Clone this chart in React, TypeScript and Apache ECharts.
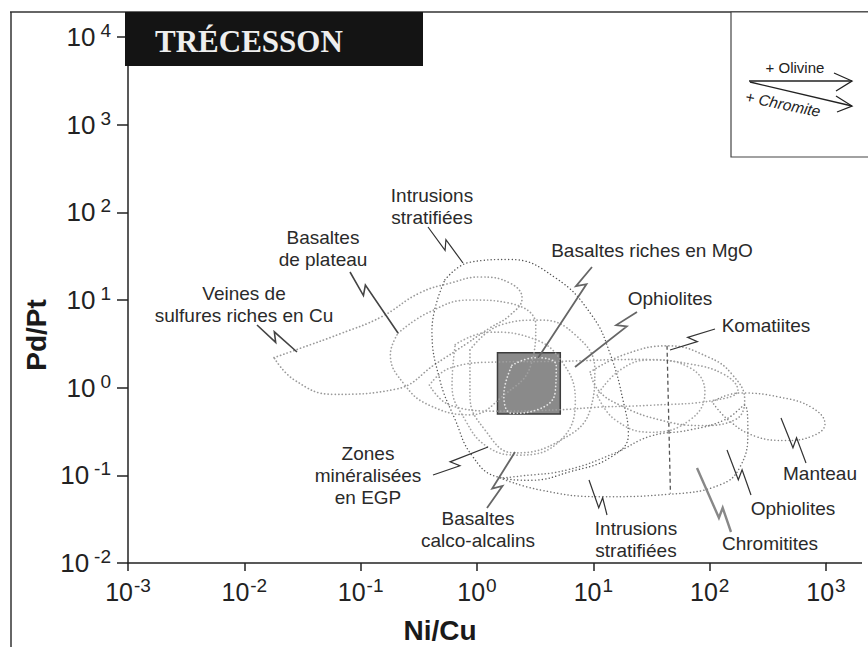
import React, { useEffect, useRef } from "react";
import * as echarts from "echarts";

// ---- Data (Ni/Cu , Pd/Pt) ----
const veinesCu = [[0.018, 2.2], [0.030, 2.8], [0.066, 4.1], [0.15, 6.4], [0.32, 12], [0.59, 15.6], [1.06, 18.3], [1.92, 15.6], [2.44, 10.5], [1.92, 6.7], [1.29, 4.8], [0.82, 3.2], [0.45, 1.9], [0.2, 0.96], [0.058, 0.84], [0.027, 1.22]];
const intrusionsHaut = [[0.53, 17], [0.87, 27], [1.9, 29], [4.7, 18], [9.7, 6.7], [14, 2.4], [18, 0.72], [20, 0.29], [14, 0.16], [6.3, 0.11], [2.9, 0.088], [1.5, 0.096], [0.9, 0.17], [0.65, 0.43], [0.48, 1.22], [0.41, 4.5]];
const basaltesPlateau = [[0.21, 4.2], [0.39, 7.3], [0.87, 10], [1.9, 9.2], [3.2, 5.2], [2.9, 1.8], [1.7, 0.82], [0.87, 0.49], [0.39, 0.63], [0.24, 1.07], [0.18, 2.4]];
const zonesEGP = [[0.65, 3.1], [1.3, 4.3], [2.9, 3.7], [5.2, 2.1], [7.0, 0.72], [5.2, 0.25], [2.3, 0.17], [1.24, 0.21], [0.79, 0.43], [0.61, 1.07]];
const basaltesCalco = [[0.87, 2.7], [1.6, 5.2], [3.5, 5.9], [7.0, 4.0], [10.3, 1.6], [9.4, 0.56], [5.2, 0.25], [2.1, 0.18], [1.17, 0.33], [0.87, 0.82]];
const basaltesMgO = [[2.0, 1.8], [3.15, 2.2], [4.8, 1.77], [4.7, 0.89], [3.3, 0.56], [2.0, 0.51], [1.7, 0.82]];
const bandeKomatiites = [[0.39, 1.07], [0.59, 1.68], [1.49, 1.96], [5.2, 2.0], [25, 2.1], [68, 1.86], [135, 1.4], [175, 0.94], [111, 0.72], [31, 0.63], [11.4, 0.6], [5.2, 0.56], [1.49, 0.54], [0.59, 0.63]];
const komatiites = [[9.4, 1.51], [18.7, 2.4], [44, 3.0], [97, 2.24], [155, 1.43], [200, 0.72], [165, 0.43], [83, 0.37], [37, 0.43], [17, 0.63], [11, 0.94]];
const ophiolitesHaut = [[10.8, 0.82], [17, 1.59], [31, 2.07], [68, 1.68], [91, 0.89], [68, 0.43], [31, 0.31], [15.4, 0.43]];
const intrusionsBas = [[1.58, 0.093], [3.5, 0.068], [11.4, 0.057], [46, 0.061], [123, 0.078], [182, 0.124], [213, 0.31], [200, 0.63], [135, 0.43], [68, 0.33], [31, 0.28], [15.4, 0.18], [5.9, 0.115], [2.34, 0.098]];
const manteau = [[105, 0.69], [182, 0.87], [400, 0.78], [760, 0.59], [980, 0.385], [760, 0.28], [444, 0.25], [245, 0.28], [144, 0.43]];
const ligneTirets = [[43, 3.0], [46, 0.062]];
const trecessonBox = [1.5, 0.5, 5.2, 2.5]; // xmin, ymin, xmax, ymax

const FONT = '"Liberation Sans", Arial, sans-serif';

function closed(a: number[][]) {
  return [...a, a[0]];
}

function zig(ax: number, ay: number, bx: number, by: number, t: number) {
  const dx = bx - ax, dy = by - ay;
  const L = Math.hypot(dx, dy);
  const ux = dx / L, uy = dy / L;
  const nx = -uy, ny = ux;
  const cx = ax + dx * t, cy = ay + dy * t;
  const s = 3.5, w = 4;
  return [[ax, ay], [cx + ux * s + nx * w, cy + uy * s + ny * w], [cx - ux * s - nx * w, cy - uy * s - ny * w], [bx, by]];
}

const arrows: [number, number, number, number, number, string, number][] = [
  [428, 227, 463, 263, 0.5, "#333", 1.2],
  [350, 272, 398, 333, 0.3, "#444", 1.6],
  [257, 325, 297, 352, 0.45, "#444", 1.6],
  [592, 267, 538, 358, 0.2, "#666", 1.8],
  [637, 312, 575, 367, 0.25, "#666", 1.8],
  [715, 329, 670, 350, 0.5, "#333", 1.2],
  [806, 463, 781, 418, 0.45, "#333", 1.2],
  [751, 495, 727, 450, 0.45, "#333", 1.2],
  [731, 532, 697, 468, 0.3, "#888", 2.4],
  [607, 515, 589, 480, 0.35, "#333", 1.2],
  [487, 508, 515, 452, 0.37, "#666", 1.8],
  [433, 475, 488, 447, 0.4, "#333", 1.2],
];

const labels: [string, number, number][] = [
  ["Intrusions\nstratifiées", 432, 206],
  ["Basaltes\nde plateau", 323, 248],
  ["Veines de\nsulfures riches en Cu", 244, 304],
  ["Basaltes riches en MgO", 652, 250],
  ["Ophiolites", 670, 298],
  ["Komatiites", 766, 325],
  ["Manteau", 820, 473],
  ["Ophiolites", 793, 508],
  ["Chromitites", 770, 543],
  ["Intrusions\nstratifiées", 636, 539],
  ["Basaltes\ncalco-alcalins", 478, 529],
  ["Zones\nminéralisées\nen EGP", 368, 475],
];

function loop(data: number[][], color: string, width = 1.7) {
  return {
    type: "line",
    data: closed(data),
    smooth: 0.45,
    symbol: "none",
    silent: true,
    z: 3,
    lineStyle: { color, width, type: [0.1, 3.4], cap: "round" },
  };
}

export default function App() {
  const ref = useRef<HTMLDivElement>(null);
  useEffect(() => {
    document.body.style.margin = "0";
    const chart = echarts.init(ref.current!, null, { renderer: "svg" });
    const expo = (v: number) => String(Math.round(Math.log10(v)));
    const graphic: any[] = [];
    // frames
    graphic.push({ type: "line", shape: { x1: 10, y1: 12, x2: 868, y2: 12 }, style: { stroke: "#333", lineWidth: 1.5 } });
    graphic.push({ type: "line", shape: { x1: 11, y1: 12, x2: 11, y2: 647 }, style: { stroke: "#333", lineWidth: 1.5 } });
    graphic.push({ type: "line", shape: { x1: 826, y1: 563, x2: 862, y2: 563 }, style: { stroke: "#222", lineWidth: 1.5 } });
    // title box
    graphic.push({ type: "rect", shape: { x: 125, y: 12, width: 298, height: 54 }, style: { fill: "#141414" }, z: 10 });
    graphic.push({ type: "text", x: 155, y: 41, z: 11, style: { text: "TRÉCESSON", font: 'bold 31px "Liberation Serif", "DejaVu Serif", serif', fill: "#eeeeee", textAlign: "left", textVerticalAlign: "middle" } });
    // legend box
    graphic.push({ type: "rect", shape: { x: 731, y: 12, width: 140, height: 145 }, style: { fill: "#fff", stroke: "#444", lineWidth: 1.2 }, z: 10 });
    graphic.push({ type: "polyline", shape: { points: [[749, 81], [852, 81]] }, style: { stroke: "#222", lineWidth: 1.3, fill: null }, z: 11 });
    graphic.push({ type: "polyline", shape: { points: [[834, 73], [852, 81], [836, 91]] }, style: { stroke: "#222", lineWidth: 1.3, fill: null }, z: 11 });
    graphic.push({ type: "polyline", shape: { points: [[750, 82], [852, 106]] }, style: { stroke: "#222", lineWidth: 1.3, fill: null }, z: 11 });
    graphic.push({ type: "polyline", shape: { points: [[836, 96], [852, 106], [837, 112]] }, style: { stroke: "#222", lineWidth: 1.3, fill: null }, z: 11 });
    graphic.push({ type: "text", x: 795, y: 67, z: 11, style: { text: "+ Olivine", font: `15px ${FONT}`, fill: "#222", textAlign: "center", textVerticalAlign: "middle" } });
    graphic.push({ type: "text", x: 783, y: 104, rotation: -0.2, z: 11, style: { text: "+ Chromite", font: `italic 15.5px ${FONT}`, fill: "#222", textAlign: "center", textVerticalAlign: "middle" } });
    // axis names
    graphic.push({ type: "text", x: 440, y: 630, style: { text: "Ni/Cu", font: `bold 28px ${FONT}`, fill: "#1a1a1a", textAlign: "center", textVerticalAlign: "middle" } });
    graphic.push({ type: "text", x: 36, y: 335, rotation: Math.PI / 2, style: { text: "Pd/Pt", font: `bold 28px ${FONT}`, fill: "#1a1a1a", textAlign: "center", textVerticalAlign: "middle" } });
    // annotation arrows
    arrows.forEach(([ax, ay, bx, by, t, c, w]) => {
      graphic.push({ type: "polyline", shape: { points: zig(ax, ay, bx, by, t) }, style: { stroke: c, lineWidth: w, fill: null }, z: 12 });
    });
    labels.forEach(([txt, x, y]) => {
      graphic.push({ type: "text", x, y, z: 12, style: { text: txt, font: `19px ${FONT}`, fill: "#2a2a2a", textAlign: "center", textVerticalAlign: "middle", lineHeight: 22 } });
    });

    const option: any = {
      animation: false,
      grid: { left: 128, top: 37, width: 698, height: 526 },
      xAxis: {
        type: "log",
        logBase: 10,
        min: 0.001,
        max: 1000,
        splitNumber: 6,
        axisLine: { show: true, lineStyle: { color: "#222", width: 1.5 } },
        axisTick: { show: true, length: 8, lineStyle: { color: "#222", width: 1.5 } },
        splitLine: { show: false },
        minorTick: { show: false },
        axisLabel: {
          margin: 13,
          formatter: (v: number) => `{b|10}{s|${expo(v)}}`,
          rich: {
            b: { fontSize: 25, fontFamily: FONT, color: "#222", lineHeight: 32 },
            s: { fontSize: 19, fontFamily: FONT, color: "#222", lineHeight: 18, verticalAlign: "top", padding: [0, 0, 0, 1] },
          },
        },
      },
      yAxis: {
        type: "log",
        logBase: 10,
        min: 0.01,
        max: 10000,
        splitNumber: 6,
        axisLine: { show: true, lineStyle: { color: "#222", width: 1.5 } },
        axisTick: { show: true, length: 11, lineStyle: { color: "#222", width: 1.5 } },
        splitLine: { show: false },
        minorTick: { show: false },
        axisLabel: {
          margin: 17,
          formatter: (v: number) => `{b|10}{s|${expo(v)}}`,
          rich: {
            b: { fontSize: 26, fontFamily: FONT, color: "#222", lineHeight: 32 },
            s: { fontSize: 19, fontFamily: FONT, color: "#222", lineHeight: 18, verticalAlign: "top", padding: [0, 0, 0, 5] },
          },
        },
      },
      series: [
        {
          type: "custom",
          z: 2,
          silent: true,
          encode: { x: [0, 2], y: [1, 3] },
          data: [trecessonBox],
          renderItem: (params: any, api: any) => {
            const p0 = api.coord([api.value(0), api.value(3)]);
            const p1 = api.coord([api.value(2), api.value(1)]);
            return {
              type: "rect",
              shape: { x: p0[0], y: p0[1], width: p1[0] - p0[0], height: p1[1] - p0[1] },
              style: { fill: "#8a8a8a", stroke: "#3c3c3c", lineWidth: 1.5 },
            };
          },
        },
        loop(veinesCu, "#9a9a9a"),
        loop(intrusionsHaut, "#555", 1.4),
        loop(basaltesPlateau, "#a0a0a0"),
        loop(zonesEGP, "#a5a5a5"),
        loop(basaltesCalco, "#a0a0a0"),
        loop(bandeKomatiites, "#a0a0a0"),
        loop(komatiites, "#999"),
        loop(ophiolitesHaut, "#a5a5a5"),
        loop(intrusionsBas, "#777", 1.5),
        loop(manteau, "#888", 1.5),
        { ...loop(basaltesMgO, "#e6e6e6", 1.7), z: 4 },
        {
          type: "line",
          data: ligneTirets,
          symbol: "none",
          silent: true,
          z: 3,
          lineStyle: { color: "#555", width: 1.3, type: [4, 3] },
        },
      ],
      graphic,
    };
    chart.setOption(option);
    return () => chart.dispose();
  }, []);
  return <div ref={ref} style={{ position: "absolute", left: 0, top: 0, width: 868, height: 647, background: "#fff" }} />;
}
